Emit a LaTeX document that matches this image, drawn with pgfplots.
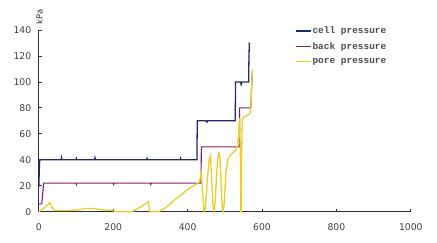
\documentclass[border=0pt]{standalone}
\usepackage{pgfplots}
\pgfplotsset{compat=1.18}
\usepackage{fontspec}
\setmainfont{DejaVu Sans}
\newfontfamily\legfont{Liberation Mono}
\definecolor{cellc}{RGB}{31,42,104}
\definecolor{backc}{RGB}{128,30,110}
\definecolor{porec}{RGB}{235,205,40}
\definecolor{axisc}{RGB}{45,45,75}
\begin{document}
\begin{tikzpicture}
\path[use as bounding box] (0,0) rectangle (437bp,243bp);
\begin{axis}[
  at={(38.8bp,31.3bp)}, anchor=south west,
  scale only axis, width=372bp, height=181.7bp,
  xmin=0, xmax=1000, ymin=0, ymax=140,
  xtick={0,200,400,600,800,1000},
  ytick={0,20,40,60,80,100,120,140},
  axis x line=bottom, axis y line=left,
  axis line style={-, color=axisc, line width=1pt},
  tick style={color=axisc, line width=0.8pt},
  tick align=inside, major tick length=3bp,
  /pgf/number format/assume math mode=true,
  /pgf/number format/1000 sep={},
  ticklabel style={font=\fontsize{9.3}{10}\selectfont, text=black!75},
  xticklabel style={yshift=-8bp},
  yticklabel style={xshift=-4bp},
  legend style={at={(axis description cs:0.689,1.024)}, anchor=north west,
    draw=none, fill=none, inner sep=0pt, row sep=5.5bp,
    font=\legfont\bfseries\fontsize{9.5}{10}\selectfont, text=black!70,
    nodes={inner sep=1bp}},
  legend cell align=left,
  legend image code/.code={\draw[#1, line width=1.2pt] (0bp,0bp) -- (15bp,0bp);},
  clip=false,
]
\addplot[cellc, line width=1.3pt] coordinates {
(0,19)(2,38)(3,40)(60,40)(61,41.5)(62,40)(100,40)(101,41)(102,40)(150,40)(151,41.5)(152,40)
(290,40)(291,41)(292,40)(380,40)(381,41)(382,40)(425,40)(426,70)(450,70)(452,69)(454,70)
(528,70)(529,100)(542,100)(544,98)(546,100)(564,100)(565,120)(566,130)(567,130)};
\addlegendentry{cell pressure}
\addplot[backc, line width=1.1pt] coordinates {
(0,6)(8,6)(13,22)(100,22)(101,21)(102,22)(200,22)(201,21)(203,22)(300,22)(301,21)(303,22)
(436,22)(437,50)(539,50)(540,80)(570,80)(572,95)(574,108)};
\addlegendentry{back pressure}
\addplot[porec, line width=1.3pt] coordinates {
(0,0)(5,1)(15,3)(30,7)(36,3)(42,1)(80,1)(110,1.5)(125,2.5)(150,2.5)(165,1.5)(200,1)(205,0)
(250,0)(270,3)(294,7.5)(299,0)(322,0)(335,2)(350,5)(365,9)(380,12.5)(395,16)(410,19)(425,21.5)
(432,23)(435,28)(437,30)(440,15)(444,1)(446,0)(448,3)(453,25)(458,40)(461,43)(464,30)(468,5)
(471,0)(474,8)(480,38)(484,45)(487,42)(491,15)(494,1)(496,0)(498,5)(503,30)(508,40)(513,43)
(520,45)(528,47)(533,50)(537,58)(540,72)(542,40)(543,0)(544,0)(545,40)(547,70)(550,73)(560,74)
(568,76)(570,80)(572,95)(574,110)};
\addlegendentry{pore pressure}
\node[rotate=90, font=\fontsize{8.5}{9}\selectfont, text=black!80] at (axis description cs:0.002,1.073) {kPa};
\end{axis}
\end{tikzpicture}
\end{document}
